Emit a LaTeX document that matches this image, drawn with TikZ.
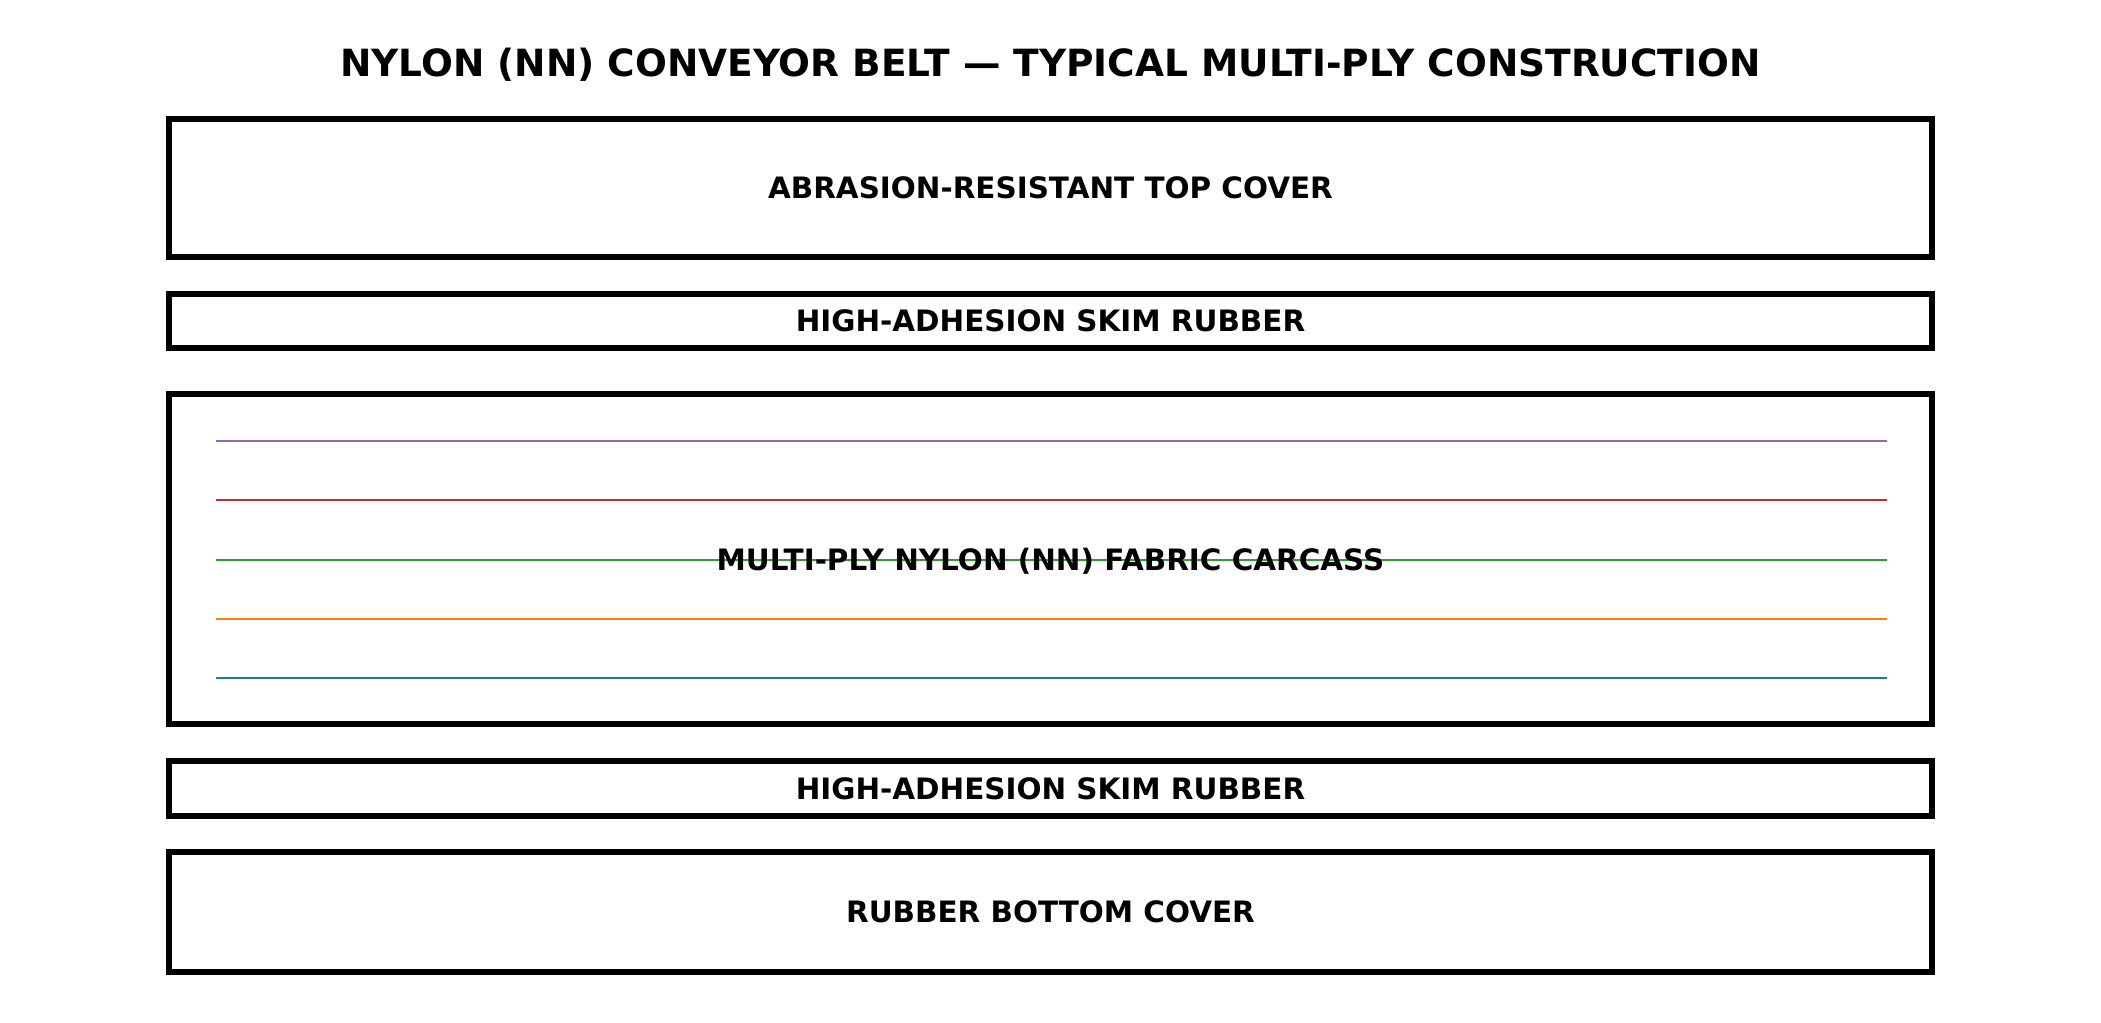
\documentclass[tikz,border=0pt]{standalone}
\usepackage{fontspec}
\setmainfont{DejaVu Sans}
\definecolor{tpurple}{HTML}{9467BD}
\definecolor{tred}{HTML}{D62728}
\definecolor{tgreen}{HTML}{2CA02C}
\definecolor{torange}{HTML}{FF7F0E}
\definecolor{tblue}{HTML}{1F77B4}
\tikzset{
  layerbox/.style={draw=black, line width=2.16pt, line join=miter, minimum width=1763*0.36pt, inner sep=0pt, outer sep=0pt, fill=white},
  layertext/.style={font=\bfseries\fontsize{10.6}{12}\selectfont, text height=7.73pt, text depth=0pt, inner sep=0pt},
  plyline/.style={line width=0.8pt, line cap=butt},
  titletext/.style={font=\bfseries\fontsize{13.5}{16}\selectfont, text height=9.84pt, text depth=0pt, inner sep=0pt}
}
\begin{document}
\begin{tikzpicture}[x=0.36pt, y=-0.36pt]
\useasboundingbox[fill=white] (0,0) rectangle (2101,1022);
\node[titletext] (title) at (1050.5,63) {NYLON (NN) CONVEYOR BELT — TYPICAL MULTI-PLY CONSTRUCTION};
% top cover
\node[layerbox, minimum height=138*0.36pt] (topcover) at (1050.5,188) {};
\node[layertext] (topcovertxt) at (topcover.center) {ABRASION-RESISTANT TOP COVER};
% upper skim
\node[layerbox, minimum height=54*0.36pt] (skimtop) at (1050.5,321) {};
\node[layertext] (skimtoptxt) at (skimtop.center) {HIGH-ADHESION SKIM RUBBER};
% carcass
\node[layerbox, minimum height=330*0.36pt] (carcass) at (1050.5,559) {};
\coordinate (p1l) at (216,441); \coordinate (p1r) at (1887,441);
\coordinate (p2l) at (216,500); \coordinate (p2r) at (1887,500);
\coordinate (p3l) at (216,560); \coordinate (p3r) at (1887,560);
\coordinate (p4l) at (216,619); \coordinate (p4r) at (1887,619);
\coordinate (p5l) at (216,678); \coordinate (p5r) at (1887,678);
\draw[plyline, tpurple] (p1l) -- (p1r);
\draw[plyline, tred] (p2l) -- (p2r);
\draw[plyline, tgreen] (p3l) -- (p3r);
\draw[plyline, torange] (p4l) -- (p4r);
\draw[plyline, tblue] (p5l) -- (p5r);
\node[layertext] (carcasstxt) at (1050.5,560) {MULTI-PLY NYLON (NN) FABRIC CARCASS};
% lower skim
\node[layerbox, minimum height=55*0.36pt] (skimbot) at (1050.5,788.5) {};
\node[layertext] (skimbottxt) at (skimbot.center) {HIGH-ADHESION SKIM RUBBER};
% bottom cover
\node[layerbox, minimum height=120*0.36pt] (botcover) at (1050.5,912) {};
\node[layertext] (botcovertxt) at (botcover.center) {RUBBER BOTTOM COVER};
\end{tikzpicture}
\end{document}
